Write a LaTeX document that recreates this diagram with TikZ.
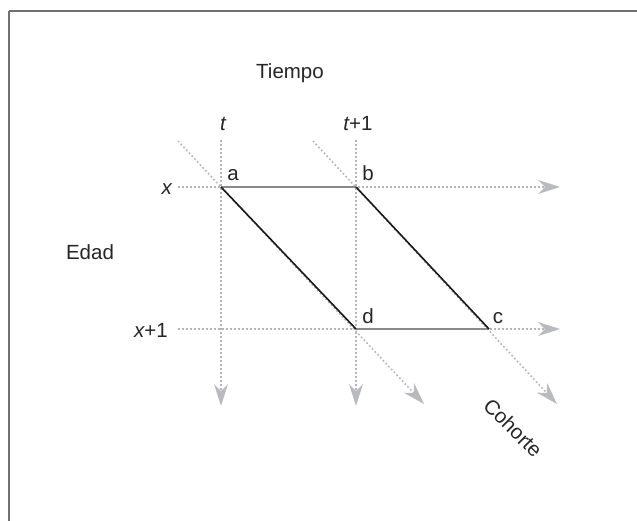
\documentclass[tikz,border=0pt]{standalone}
\usepackage{fontspec}
\setmainfont{Liberation Sans}
\usetikzlibrary{arrows.meta}
\definecolor{dotgray}{HTML}{B4B5B8}
\definecolor{tipgray}{HTML}{B9BABD}
\definecolor{edgegray}{HTML}{8A8A8A}
\definecolor{framegray}{HTML}{707070}
\begin{document}
\begin{tikzpicture}[x=1pt,y=-1pt,
  lbl/.style={font=\fontsize{20.5}{24}\selectfont, text=black!85, inner sep=0pt},
  guide/.style={draw=dotgray, line width=1.6pt, dash pattern=on 1.6pt off 2.4pt},
  guidearrow/.style={guide, -{Stealth[length=22pt,width=14pt,inset=7pt,color=tipgray,line width=0pt]}},
  hedge/.style={draw=edgegray, line width=2pt},
  dedge/.style={draw=black!90, line width=1.6pt}]
\useasboundingbox (0,0) rectangle (637,520);
\fill[white] (0,0) rectangle (637,520);
\draw[framegray, line width=2.5pt] (9,11) -- (660,11);
\draw[framegray, line width=2.5pt] (9,11) -- (9,540);

% key points
\coordinate (a) at (221,187);
\coordinate (b) at (356,187);
\coordinate (d) at (356,329);
\coordinate (c) at (489,329);
% guide start / end points
\coordinate (h1s) at (178,187);
\coordinate (h1e) at (560,187);
\coordinate (h2s) at (178,329);
\coordinate (h2e) at (560,329);
\coordinate (v1s) at (221,140);
\coordinate (v1e) at (221,406);
\coordinate (v2s) at (356,140);
\coordinate (v2e) at (356,406);
\coordinate (d1s) at (178,141);
\coordinate (d1e) at (424,404);
\coordinate (d2s) at (313,141);
\coordinate (d2e) at (557,404);

% guides
\draw[guidearrow] (h1s) -- (h1e);
\draw[guidearrow] (h2s) -- (h2e);
\draw[guidearrow] (v1s) -- (v1e);
\draw[guidearrow] (v2s) -- (v2e);
\draw[guidearrow] (d1s) -- (d1e);
\draw[guidearrow] (d2s) -- (d2e);

% parallelogram
\draw[hedge] (a) -- (b);
\draw[hedge] (d) -- (c);
\draw[dedge] (a) -- (d);
\draw[dedge] (b) -- (c);

% labels
\node[lbl, anchor=base] (tiempo) at (290,78) {Tiempo};
\node[lbl, anchor=base] (edad) at (90,259) {Edad};
\node[lbl, anchor=base] (tl) at (223,130) {\itshape t};
\node[lbl, anchor=base] (t1l) at (358,130) {\itshape t\upshape +1};
\node[lbl, anchor=base east] (xl) at (172,194) {\itshape x};
\node[lbl, anchor=base east] (x1l) at (168,337) {\itshape x\upshape +1};
\node[lbl, anchor=base] (al) at (233,180) {a};
\node[lbl, anchor=base] (bl) at (368,180) {b};
\node[lbl, anchor=base] (dl) at (368,323) {d};
\node[lbl, anchor=base] (cl) at (498,323) {c};
\node[lbl, rotate=-45] (coh) at (513,428) {Cohorte};
\end{tikzpicture}
\end{document}
